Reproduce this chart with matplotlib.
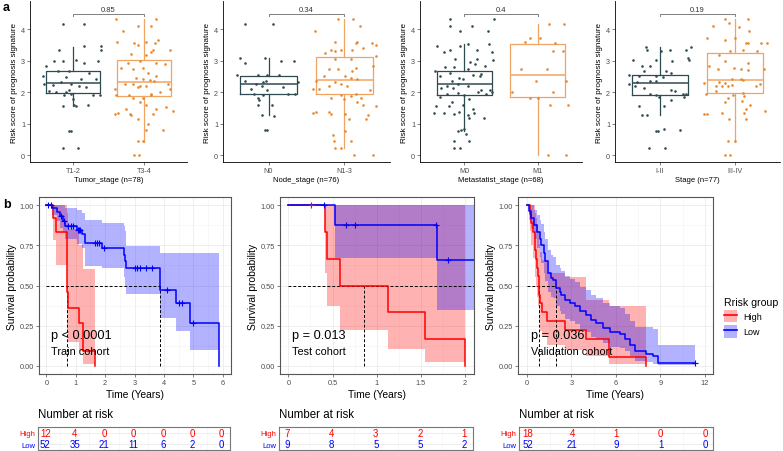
import numpy as np
import matplotlib
matplotlib.use("Agg")
import matplotlib.pyplot as plt
from matplotlib.patches import Patch
from matplotlib.lines import Line2D

plt.rcParams['font.family'] = ['Liberation Sans', 'DejaVu Sans']

# ---------------- panel a data (box stats: whislo, q1, med, q3, whishi) ----------------
tumor_box = [[1.56, 1.97, 2.28, 2.67, 3.44], [0.42, 1.875, 2.33, 3.03, 4.34]]
node_box = [[1.27, 1.93, 2.26, 2.52, 3.09], [0.21, 1.95, 2.385, 3.125, 4.34]]
meta_box = [[0.75, 1.90, 2.26, 2.66, 3.53], [0.0, 1.86, 2.54, 3.53, 4.17]]
stage_box = [[1.27, 1.90, 2.28, 2.54, 3.44], [0.42, 1.96, 2.375, 3.25, 4.34]]

# jittered points (offset from group centre, risk score)
t12_pts = [(-0.14, 4.17), (0.16, 4.17), (-0.19, 3.35), (-0.14, 2.99), (0.16, 3.46), (0.40, 3.46),
           (0.40, 3.35), (0.35, 2.99), (0.16, 2.94), (-0.26, 2.99), (0.05, 3.02), (-0.38, 2.83),
           (-0.42, 2.52), (-0.21, 2.68), (-0.05, 2.68), (0.12, 2.42), (-0.09, 2.47), (-0.16, 2.31),
           (-0.28, 2.23), (-0.40, 2.26), (-0.02, 2.26), (0.09, 2.21), (0.23, 2.62), (0.33, 2.42),
           (-0.33, 2.05), (-0.23, 2.00), (-0.05, 2.08), (-0.02, 1.95), (-0.12, 1.90), (0.00, 1.79),
           (0.28, 1.90), (0.38, 1.90), (0.02, 1.60), (0.05, 1.56), (0.21, 1.60), (-0.14, 1.56),
           (-0.05, 0.75), (-0.02, 0.75), (-0.14, 0.23), (0.07, 0.23), (0.19, 2.16), (-0.10, 2.02)]
t34_pts = [(-0.40, 4.34), (0.17, 4.34), (-0.09, 4.10), (0.10, 4.10), (-0.30, 3.96), (0.03, 3.61),
           (-0.38, 3.61), (-0.14, 3.56), (-0.08, 3.51), (0.15, 3.56), (0.20, 3.67), (0.13, 3.35),
           (0.10, 3.27), (0.36, 3.35), (-0.18, 3.20), (0.02, 3.17), (-0.23, 2.94), (-0.06, 2.99),
           (0.17, 2.94), (0.29, 2.89), (-0.32, 2.78), (-0.15, 2.73), (-0.02, 2.78), (0.06, 2.62),
           (0.17, 2.52), (-0.11, 2.44), (-0.01, 2.42), (0.08, 2.40), (0.14, 2.36), (-0.15, 2.26),
           (-0.06, 2.21), (0.03, 2.19), (-0.27, 2.26), (-0.08, 2.16), (-0.41, 2.10), (0.34, 2.26),
           (0.36, 2.10), (0.22, 2.00), (0.10, 1.95), (-0.21, 1.90), (-0.15, 1.82), (-0.01, 1.82),
           (0.10, 1.90), (-0.39, 1.90), (-0.06, 1.69), (-0.25, 1.48), (0.03, 1.58), (0.17, 1.48),
           (0.30, 1.53), (-0.41, 1.32), (-0.36, 1.35), (-0.20, 1.32), (-0.18, 1.27), (0.13, 1.32),
           (0.40, 1.40), (-0.08, 1.15), (0.05, 0.98), (0.03, 0.80), (0.26, 0.80), (-0.09, 0.44),
           (-0.01, 0.44), (-0.14, 0.00), (-0.07, 0.00)]
n0_pts = [(-0.31, 4.17), (0.06, 4.17), (-0.38, 3.09), (-0.31, 2.94), (-0.05, 3.09), (0.16, 2.99),
          (0.33, 2.99), (-0.42, 2.54), (-0.14, 2.54), (-0.02, 2.54), (0.14, 2.54), (-0.31, 2.36),
          (-0.16, 2.26), (-0.07, 2.31), (-0.04, 2.36), (-0.09, 2.19), (-0.02, 2.08), (-0.23, 2.10),
          (-0.19, 1.95), (-0.07, 1.90), (0.26, 1.95), (0.35, 1.95), (0.39, 2.31), (-0.14, 1.82),
          (-0.12, 1.74), (-0.14, 1.60), (0.05, 1.60), (-0.09, 1.27), (0.07, 1.25), (-0.05, 0.80),
          (-0.02, 0.80), (0.19, 2.16)]
n13_pts = [(-0.08, 4.34), (0.11, 4.34), (0.20, 4.10), (-0.39, 3.96), (-0.13, 3.61), (0.15, 3.56),
           (0.17, 3.61), (0.36, 3.56), (0.41, 3.51), (-0.18, 3.35), (-0.04, 3.35), (0.10, 3.35),
           (0.24, 3.40), (-0.25, 3.25), (-0.13, 3.30), (0.41, 3.15), (-0.13, 3.04), (0.08, 3.04),
           (0.38, 2.83), (-0.20, 2.73), (-0.08, 2.73), (0.10, 2.68), (0.15, 2.78), (-0.27, 2.50),
           (0.01, 2.52), (0.08, 2.44), (0.17, 2.42), (-0.37, 2.36), (-0.13, 2.31), (-0.04, 2.26),
           (0.03, 2.21), (-0.20, 2.19), (-0.41, 2.10), (0.34, 2.08), (-0.34, 2.10), (0.15, 1.95),
           (-0.04, 1.90), (0.08, 1.88), (-0.18, 1.82), (-0.01, 1.79), (0.22, 1.82), (0.17, 1.69),
           (0.24, 1.60), (0.41, 1.55), (-0.41, 1.35), (-0.37, 1.38), (-0.20, 1.38), (-0.18, 1.32),
           (0.01, 1.32), (0.31, 1.27), (0.06, 1.15), (0.28, 1.15), (-0.15, 0.63), (0.01, 0.75),
           (-0.14, 0.44), (0.08, 0.44), (-0.13, 0.21), (-0.05, 0.21), (0.13, 0.00), (0.38, 0.00)]
m0_pts = [(-0.19, 4.34), (0.41, 4.34), (-0.19, 4.10), (0.10, 4.10), (-0.06, 3.96), (0.33, 3.96),
          (0.05, 3.53), (0.34, 3.53), (-0.37, 3.46), (-0.06, 3.46), (-0.19, 3.35), (-0.27, 3.27),
          (0.18, 3.35), (0.38, 3.27), (-0.13, 3.04), (0.18, 3.04), (0.39, 3.02), (0.08, 2.96),
          (-0.26, 2.81), (-0.14, 2.80), (0.15, 2.91), (0.28, 2.83), (-0.40, 2.68), (0.05, 2.73),
          (0.23, 2.57), (-0.19, 2.60), (-0.33, 2.52), (0.12, 2.54), (0.21, 2.50), (-0.07, 2.44),
          (-0.02, 2.42), (-0.16, 2.36), (-0.23, 2.21), (-0.09, 2.26), (0.05, 2.19), (-0.31, 2.13),
          (0.23, 2.08), (0.35, 2.08), (-0.15, 2.13), (0.19, 2.00), (0.38, 2.00), (-0.23, 1.95),
          (0.00, 1.90), (-0.09, 1.98), (0.29, 1.93), (-0.33, 1.84), (0.07, 1.79), (-0.16, 1.69),
          (-0.21, 1.56), (-0.38, 1.56), (-0.01, 1.58), (0.12, 1.48), (-0.27, 1.35), (-0.07, 1.38),
          (-0.41, 1.35), (-0.14, 1.32), (0.14, 1.35), (0.05, 1.27), (0.06, 1.17), (0.27, 1.17),
          (0.00, 0.83), (-0.05, 0.80), (-0.08, 0.75), (0.02, 0.67), (-0.14, 0.44), (0.07, 0.44),
          (-0.14, 0.21), (-0.06, 0.21)]
m1_pts = [(0.15, 4.17), (0.36, 4.17), (-0.18, 3.61), (-0.10, 3.72), (0.03, 3.72), (0.23, 3.58),
          (0.20, 3.30), (0.34, 3.30), (-0.23, 2.73), (0.12, 2.73), (-0.03, 2.36), (0.38, 2.36),
          (-0.35, 2.00), (0.21, 2.02), (-0.10, 1.82), (0.00, 1.82), (0.16, 1.58), (0.41, 1.58),
          (0.14, 0.00), (0.38, 0.00)]
i2_pts = [(-0.19, 3.44), (-0.17, 3.35), (0.01, 3.30), (0.13, 3.35), (0.35, 3.35), (0.41, 3.44),
          (-0.36, 3.02), (-0.06, 3.02), (0.16, 2.99), (0.37, 3.09), (0.38, 3.01), (-0.24, 2.83),
          (-0.13, 2.83), (-0.22, 2.68), (0.08, 2.68), (0.15, 2.62), (-0.42, 2.54), (-0.28, 2.52),
          (-0.06, 2.52), (0.04, 2.47), (-0.13, 2.36), (-0.06, 2.36), (-0.31, 2.33), (-0.41, 2.26),
          (-0.21, 2.13), (0.15, 2.08), (0.20, 2.05), (-0.34, 2.19), (-0.13, 1.95), (-0.06, 1.90),
          (-0.01, 1.84), (0.30, 1.95), (0.34, 1.93), (0.32, 1.84), (0.15, 1.74), (-0.28, 1.56),
          (0.05, 1.55), (-0.24, 1.27), (-0.17, 1.27), (-0.06, 0.75), (-0.03, 0.75), (0.05, 0.82),
          (0.26, 0.80), (-0.15, 0.21), (0.07, 0.21)]
i4_pts = [(-0.14, 4.34), (-0.08, 4.19), (0.17, 4.34), (0.05, 4.08), (0.19, 3.96), (-0.30, 4.10),
          (-0.38, 3.72), (-0.14, 3.67), (0.00, 3.72), (0.15, 3.58), (0.17, 3.56), (0.35, 3.56),
          (0.42, 3.56), (-0.07, 3.30), (0.10, 3.35), (0.29, 3.30), (-0.21, 3.17), (-0.14, 2.99),
          (0.17, 2.94), (0.38, 2.73), (-0.35, 2.83), (-0.23, 2.73), (-0.02, 2.78), (0.08, 2.73),
          (0.17, 2.71), (-0.04, 2.42), (0.08, 2.42), (0.10, 2.40), (-0.21, 2.33), (-0.14, 2.29),
          (-0.04, 2.23), (-0.25, 2.19), (-0.18, 2.19), (-0.09, 2.19), (-0.41, 2.29), (0.33, 2.26),
          (0.28, 2.19), (-0.25, 2.05), (0.10, 1.98), (-0.03, 1.92), (0.12, 1.88), (-0.39, 1.95),
          (-0.10, 1.82), (-0.14, 1.69), (0.09, 1.71), (0.20, 1.60), (0.14, 1.46), (0.40, 1.40),
          (-0.41, 1.32), (-0.37, 1.32), (-0.18, 1.35), (0.12, 1.35), (-0.08, 1.15), (0.14, 1.15),
          (-0.09, 0.44), (0.00, 0.44), (-0.14, 0.00), (-0.07, 0.00)]

# ---------------- panel b data (KM steps, 95% CI) ----------------
train_high_t = [0, 0.24, 0.33, 0.70, 0.75, 1.1, 1.25]
train_high_s = [1, .92, .83, .46, .36, .27, .09]
train_high_up = [1, 1, 1, .95, .85, .75, .60]
train_high_lo = [1, .78, .63, .22, .15, .09, .015]
train_high_end = (1.67, 0.0)
train_low_t = [0, 0.2, 0.35, 0.45, 0.55, 0.65, 1.05, 1.2, 1.33, 1.9, 2.63, 2.68, 2.72, 3.88, 4.4, 4.89]
train_low_s = [1, .98, .955, .93, .90, .87, .845, .82, .765, .73, .69, .65, .61, .47, .39, .265]
train_low_up = [1, 1, 1, 1, 1, .98, .97, .95, .91, .89, .87, .84, .745, .705, .705, .705]
train_low_lo = [1, .94, .90, .86, .83, .79, .76, .73, .62, .61, .55, .50, .45, .30, .22, .10]
train_low_end = (5.88, 0.0)
train_high_cens = []
train_low_cens = [0.05, 0.15, 0.5, 0.6, 0.75, 0.85, 0.92, 1.08, 1.12, 1.16, 1.65, 1.72, 1.8,
                  1.95, 3.0, 3.1, 3.2, 3.4, 3.6, 4.1, 4.5, 4.6, 5.0]

test_high_t = [0, 0.41, 0.44, 0.585, 1.13, 1.54]
test_high_s = [1, .833, .667, .5, .333, .167]
test_high_up = [1, 1, 1, 1, 1, 1]
test_high_lo = [1, .58, .375, .223, .104, .025]
test_high_end = (2.0, 0.0)
test_low_t = [0, 0.53, 1.68]
test_low_s = [1, .875, .656]
test_low_up = [1, 1, 1]
test_low_lo = [1, .67, .35]
test_low_end = (2.1, .656)
test_high_cens = [0.26]
test_low_cens = [0.40, 0.65, 0.75, 1.67, 1.81]

valid_high_t = [0, 0.18, 0.3, 0.4, 0.58, 0.62, 0.68, 0.74, 0.81, 0.9, 1.01, 1.37, 2.55, 4.0, 5.52]
valid_high_s = [1, .944, .889, .833, .722, .667, .611, .556, .444, .389, .333, .278, .222, .167, .056]
valid_high_up = [1, 1, 1, 1, .95, .92, .88, .84, .76, .71, .66, .58, .55, .41, .37]
valid_high_lo = [1, .84, .75, .67, .55, .49, .43, .37, .27, .22, .18, .13, .10, .06, .015]
valid_high_end = (8.02, 0.0)
valid_low_t = [0, 0.14, 0.3, 0.45, 0.68, 0.9, 0.97, 1.13, 1.19, 1.42, 1.6, 1.76, 1.98, 2.21, 2.32,
               2.55, 2.88, 3.22, 3.56, 4.01, 4.35, 4.68, 5.14, 5.59, 6.26, 6.6, 6.94, 7.27, 8.02,
               8.51, 8.85]
valid_low_s = [1.0, .96, .92, .875, .83, .79, .754, .70, .65, .577, .546, .535, .483, .46, .44,
               .41, .39, .37, .34, .317, .285, .265, .233, .2125, .20, .17, .13, .09, .077, .06, .02]
valid_low_up = [1.0, 1.0, 1.0, .97, .94, .91, .88, .83, .79, .72, .69, .68, .63, .61, .59, .56,
                .54, .52, .49, .47, .44, .42, .39, .37, .36, .32, .28, .24, .245, .23, .13]
valid_low_lo = [1.0, .91, .85, .79, .73, .68, .64, .58, .53, .46, .43, .42, .37, .34, .32, .29,
                .28, .26, .23, .21, .18, .165, .14, .12, .11, .09, .06, .03, .025, .015, .003]
valid_low_end = (11.33, .02)
valid_high_cens = []
valid_low_cens = [11.33]

# median lines: (horizontal end, vertical positions)
train_median = (3.88, [0.70, 3.88])
test_median = (2.1, [0.857])
valid_median = (1.98, [0.81, 1.98])

# number at risk
train_risk_t = [0, 1, 2, 3, 4, 5, 6]
train_risk_high = [12, 4, 0, 0, 0, 0, 0]
train_risk_low = [52, 35, 21, 11, 6, 2, 0]
test_risk_t = [0, 0.5, 1, 1.5, 2]
test_risk_high = [7, 4, 3, 2, 1]
test_risk_low = [9, 8, 5, 5, 2]
valid_risk_t = [0, 3, 6, 9, 12]
valid_risk_high = [18, 4, 1, 0, 0]
valid_risk_low = [52, 21, 9, 1, 0]

W, H = 783, 452
DARK = '#2F4B52'
ORANGE = '#E8872F'
RED = '#FF0000'
BLUE = '#0000FF'


def box(l, t, r, b):
    return [l / W, 1 - b / H, (r - l) / W, (b - t) / H]


fig = plt.figure(figsize=(W / 100, H / 100), dpi=100)

# ---------------- panel a ----------------
panels_a = [
    ((30, 2, 187, 163), ['T1-2', 'T3-4'], 'Tumor_stage (n=78)', '0.85', tumor_box, [t12_pts, t34_pts]),
    ((223, 2, 390, 163), ['N0', 'N1-3'], 'Node_stage (n=76)', '0.34', node_box, [n0_pts, n13_pts]),
    ((420, 2, 582, 163), ['M0', 'M1'], 'Metastatist_stage (n=68)', '0.4', meta_box, [m0_pts, m1_pts]),
    ((615, 2, 780, 163), ['I-II', 'III-IV'], 'Stage (n=77)', '0.19', stage_box, [i2_pts, i4_pts]),
]
for pos, cats, xlab, pval, stats, pts_list in panels_a:
    ax = fig.add_axes(box(*pos))
    for i, (st, pts, col) in enumerate(zip(stats, pts_list, [DARK, ORANGE])):
        d = dict(whislo=st[0], q1=st[1], med=st[2], q3=st[3], whishi=st[4], fliers=[])
        lc = col if i == 0 else '#F0A464'
        ax.bxp([d], positions=[i + 1], widths=0.75, showfliers=False, showcaps=False,
               boxprops=dict(color=lc, lw=0.9), medianprops=dict(color=lc, lw=1.1),
               whiskerprops=dict(color=lc, lw=0.9))
        p = np.array(pts)
        ax.scatter(i + 1 + p[:, 0], p[:, 1], s=3.5, color=col, lw=0, zorder=3)
    ax.plot([1, 1, 2, 2], [4.42, 4.49, 4.49, 4.42], color='#808080', lw=0.7)
    ax.text(1.5, 4.53, pval, ha='center', va='bottom', fontsize=5.5, color='#333333')
    ax.set_xlim(0.4, 2.6)
    ax.set_ylim(-0.22, 4.9)
    ax.set_xticks([1, 2])
    ax.set_xticklabels(cats)
    ax.set_yticks([0, 1, 2, 3, 4])
    ax.spines[['top', 'right']].set_visible(False)
    for s in ['left', 'bottom']:
        ax.spines[s].set_linewidth(0.6)
    ax.tick_params(labelsize=5.2, length=2, width=0.5, pad=1.5, colors='#4D4D4D')
    ax.set_xlabel(xlab, fontsize=5.5, labelpad=1.5)
    ax.set_ylabel('Risk score of prognosis signature', fontsize=5.9, labelpad=2)

fig.text(3 / W, 1 - 8 / H, 'a', fontsize=9, fontweight='bold', va='center')
fig.text(3 / W, 1 - 205 / H, 'b', fontsize=9, fontweight='bold', va='center')

# ---------------- panel b ----------------
curves = {
    'train': [(train_high_t, train_high_s, train_high_up, train_high_lo, train_high_end, train_high_cens, RED),
              (train_low_t, train_low_s, train_low_up, train_low_lo, train_low_end, train_low_cens, BLUE)],
    'test': [(test_high_t, test_high_s, test_high_up, test_high_lo, test_high_end, test_high_cens, RED),
             (test_low_t, test_low_s, test_low_up, test_low_lo, test_low_end, test_low_cens, BLUE)],
    'valid': [(valid_high_t, valid_high_s, valid_high_up, valid_high_lo, valid_high_end, valid_high_cens, RED),
              (valid_low_t, valid_low_s, valid_low_up, valid_low_lo, valid_low_end, valid_low_cens, BLUE)],
}
panels_b = [
    ('train', (39, 198, 231, 375), (38, 428, 230, 451), (-0.25, 6.28), [0, 1, 2, 3, 4, 5, 6], ['0', '1', '2', '3', '4', '5', '6'],
     train_median, 'p < 0.0001', 'Train cohort', 0.15, train_risk_t, train_risk_high, train_risk_low),
    ('test', (280, 198, 474, 375), (279, 428, 473, 451), (-0.095, 2.1), [0, 0.5, 1, 1.5, 2], ['0', '0.5', '1', '1.5', '2'],
     test_median, 'p = 0.013', 'Test cohort', 0.04, test_risk_t, test_risk_high, test_risk_low),
    ('valid', (518, 198, 713, 375), (519, 428, 713, 451), (-0.6, 12.55), [0, 3, 6, 9, 12], ['0', '3', '6', '9', '12'],
     valid_median, 'p = 0.036', 'Validation cohort', 0.3, valid_risk_t, valid_risk_high, valid_risk_low),
]

for key, pos, tpos, xlim, xt, xtl, med, ptxt, ctxt, tx, rt, rh, rl in panels_b:
    ax = fig.add_axes(box(*pos))
    for t, s, up, lo, end, cens, col in curves[key]:
        tt = list(t) + [end[0]]
        ax.fill_between(tt, list(lo) + [lo[-1]], list(up) + [up[-1]], step='post',
                        color=col, alpha=0.3, lw=0, zorder=2)
    for t, s, up, lo, end, cens, col in curves[key]:
        tt = list(t) + [end[0]]
        ax.step(tt, list(s) + [end[1]], where='post', color=col, lw=1.1, zorder=4)
        if cens:
            idx = np.searchsorted(t, cens, side='right') - 1
            ax.plot(cens, np.array(s)[idx], ls='none', marker='+', ms=4, mew=0.8, color=col, zorder=5)
    hend, vls = med
    ax.plot([0, hend], [0.5, 0.5], ls=(0, (3, 2)), color='black', lw=0.7, zorder=3)
    for v in vls:
        ax.plot([v, v], [0, 0.5], ls=(0, (3, 2)), color='black', lw=0.7, zorder=3)
    ax.text(tx, 0.19, ptxt, fontsize=9.2, va='center', zorder=6)
    ax.text(tx, 0.095, ctxt, fontsize=7.8, va='center', zorder=6)
    ax.set_xlim(*xlim)
    ax.set_ylim(-0.05, 1.05)
    ax.set_xticks(xt)
    ax.set_xticklabels(xtl)
    ax.set_xticks([(xt[i] + xt[i + 1]) / 2 for i in range(len(xt) - 1)], minor=True)
    ax.set_yticks([0, 0.25, 0.5, 0.75, 1])
    ax.set_yticklabels(['0.00', '0.25', '0.50', '0.75', '1.00'])
    ax.set_yticks([0.125, 0.375, 0.625, 0.875], minor=True)
    ax.grid(which='major', color='#EBEBEB', lw=0.6, zorder=0)
    ax.grid(which='minor', color='#F4F4F4', lw=0.4, zorder=0)
    ax.set_axisbelow(True)
    for sp in ax.spines.values():
        sp.set_color('#555555')
        sp.set_linewidth(0.8)
    ax.tick_params(labelsize=5.3, length=2, width=0.5, pad=1.5, colors='#4D4D4D')
    ax.tick_params(which='minor', length=0)
    ax.set_xlabel('Time (Years)', fontsize=7.4, labelpad=2)
    ax.set_ylabel('Survival probability', fontsize=7.4, labelpad=2)

    # risk table
    rx = fig.add_axes(box(*tpos))
    for yv, vals, col in [(1, rh, RED), (0, rl, BLUE)]:
        for t, v in zip(rt, vals):
            rx.text(t, yv, str(v), color=col, fontsize=7, ha='center', va='center')
    rx.set_xlim(*xlim)
    rx.set_ylim(-0.5, 1.5)
    rx.set_xticks(xt)
    rx.set_xticks([(xt[i] + xt[i + 1]) / 2 for i in range(len(xt) - 1)], minor=True)
    rx.set_yticks([0, 1])
    rx.set_yticklabels(['Low', 'High'])
    for lab, col in zip(rx.get_yticklabels(), [BLUE, RED]):
        lab.set_color(col)
    rx.tick_params(axis='y', labelsize=5.5, length=0, pad=2)
    rx.tick_params(axis='x', labelbottom=False, length=0)
    rx.tick_params(which='minor', length=0)
    rx.grid(which='major', color='#E6E6E6', lw=0.5)
    rx.grid(which='minor', axis='x', color='#F2F2F2', lw=0.4)
    for sp in rx.spines.values():
        sp.set_color('#777777')
        sp.set_linewidth(0.8)
    fig.text(tpos[0] / W, 1 - 415 / H, 'Number at risk', fontsize=8.3, va='center', ha='left')

# legend
handles = [(Patch(facecolor=RED, alpha=0.3, lw=0), Line2D([], [], color=RED, lw=1.2)),
           (Patch(facecolor=BLUE, alpha=0.3, lw=0), Line2D([], [], color=BLUE, lw=1.2))]
fig.legend(handles, ['High', 'Low'], title='Rrisk group', loc='upper left',
           bbox_to_anchor=(723 / W, 1 - 297 / H), frameon=False, fontsize=6.5,
           title_fontsize=7.6, handlelength=1.5, handleheight=1.7, labelspacing=0.35,
           alignment='left', borderpad=0.1, borderaxespad=0.0, handletextpad=0.6)

fig.savefig('out.png', dpi=100)
